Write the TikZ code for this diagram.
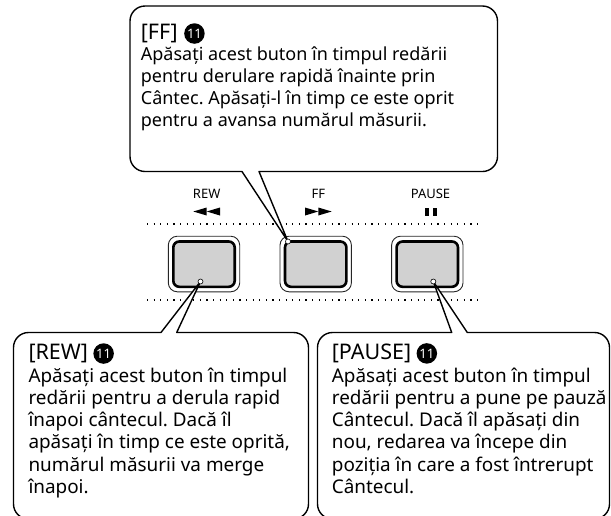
\documentclass[tikz,border=0pt]{standalone}
\usepackage{fontspec}
\setmainfont{Noto Sans}
\frenchspacing
\begin{document}
\begin{tikzpicture}[x=1pt,y=-1pt,
  callout/.style={draw=black, line width=1.4pt, fill=white, line join=round},
  bodytop/.style={anchor=base west, inner sep=0pt, align=left, font=\fontsize{18}{22}\selectfont},
  bodybot/.style={anchor=base west, inner sep=0pt, align=left, font=\fontsize{18.9}{22.3}\selectfont},
  head/.style={anchor=base west, inner sep=0pt, font=\fontsize{21.5}{24}\selectfont},
  numc/.style={circle, fill=black, text=white, minimum size=20.5pt, inner sep=0pt, anchor=west, font=\bfseries\fontsize{13}{13}\selectfont},
  btnouter/.style={draw=black!85, line width=0.9pt, rounded corners=9pt},
  btninner/.style={draw=black, line width=2.6pt, fill=black!18, rounded corners=6pt},
  dotline/.style={line width=1.2pt, dash pattern=on 1.2pt off 5.4pt},
  lbl/.style={anchor=base, inner sep=0pt, font=\fontsize{13}{14}\selectfont},
  sym/.style={fill=black},
  tipdot/.style={circle, fill=white, draw=black, line width=0.6pt, inner sep=0pt, minimum size=5pt}
]
\useasboundingbox (0,0) rectangle (611,515);
\clip (0,0) rectangle (611,515);

% dotted guide lines
\coordinate (d1a) at (147,224); \coordinate (d1b) at (483,224);
\coordinate (d2a) at (147,300); \coordinate (d2b) at (483,300);
\draw[dotline] (d1a) -- (d1b);
\draw[dotline] (d2a) -- (d2b);

% buttons
\foreach \cx in {204,315.7,427.3}{
  \draw[btnouter] (\cx-35.7,236.2) rectangle (\cx+35.7,291.8);
  \draw[btninner] (\cx-30.7,241.5) rectangle (\cx+30.7,286.8);
}

% button labels
\node[lbl] (lrew) at (206.7,198.3) {REW};
\node[lbl] (lff) at (318.3,198.3) {FF};
\node[lbl] (lpause) at (430.5,198.3) {PAUSE};
\fill[sym] (193.3,211.5) -- (206.7,207.5) -- (206.7,215.5) -- cycle;
\fill[sym] (206.7,211.5) -- (220,207.5) -- (220,215.5) -- cycle;
\fill[sym] (305,207.5) -- (318.3,211.5) -- (305,215.5) -- cycle;
\fill[sym] (318.3,207.5) -- (331.7,211.5) -- (318.3,215.5) -- cycle;
\fill[sym] (425,207.5) rectangle (429,215.5);
\fill[sym] (432.7,207.5) rectangle (436.7,215.5);

% pointer tips
\coordinate (tff) at (288,241.5);
\coordinate (trew) at (200.5,281.5);
\coordinate (tpause) at (433.3,281.5);

% top callout (FF)
\draw[callout] (145,6) -- (482.5,6) arc[start angle=-90, end angle=0, radius=15]
  -- (497.5,156.5) arc[start angle=0, end angle=90, radius=15]
  -- (259,171.5) -- (tff) -- (242,171.5)
  -- (145,171.5) arc[start angle=90, end angle=180, radius=15]
  -- (130,21) arc[start angle=180, end angle=270, radius=15] -- cycle;

% REW callout
\draw[callout] (28.5,332.5) -- (161,332.5) -- (trew) -- (176.7,332.5)
  -- (293.5,332.5) arc[start angle=-90, end angle=0, radius=15]
  -- (308.5,504) arc[start angle=0, end angle=90, radius=15]
  -- (28.5,519) arc[start angle=90, end angle=180, radius=15]
  -- (13.5,347.5) arc[start angle=180, end angle=270, radius=15] -- cycle;

% PAUSE callout
\draw[callout] (332.5,332.5) -- (451.7,332.5) -- (tpause) -- (467.3,332.5)
  -- (594.5,332.5) arc[start angle=-90, end angle=0, radius=15]
  -- (609.5,504) arc[start angle=0, end angle=90, radius=15]
  -- (332.5,519) arc[start angle=90, end angle=180, radius=15]
  -- (317.5,347.5) arc[start angle=180, end angle=270, radius=15] -- cycle;

\node[tipdot] (dff) at (tff) {};
\node[tipdot] (drew) at (trew) {};
\node[tipdot] (dpause) at (tpause) {};

% texts (body nodes anchored at the baseline of their last line)
\node[head] (hff) at (140.7,39.5) {[FF]};
\node[numc] (nff) at ([xshift=6pt]hff.east) {11};
\node[bodytop] (bff) at (140.7,126) {Apăsați acest buton în timpul redării\\pentru derulare rapidă înainte prin\\Cântec. Apăsați-l în timp ce este oprit\\pentru a avansa numărul măsurii.};

\node[head] (hrew) at (28.3,359.5) {[REW]};
\node[numc] (nrew) at ([xshift=5pt]hrew.east) {11};
\node[bodybot] (brew) at (28.3,493.5) {Apăsați acest buton în timpul\\redării pentru a derula rapid\\înapoi cântecul. Dacă îl\\apăsați în timp ce este oprită,\\numărul măsurii va merge\\înapoi.};

\node[head] (hpause) at (331.7,359.5) {[PAUSE]};
\node[numc] (npause) at ([xshift=5pt]hpause.east) {11};
\node[bodybot] (bpause) at (331.7,493.5) {Apăsați acest buton în timpul\\redării pentru a pune pe pauză\\Cântecul. Dacă îl apăsați din\\nou, redarea va începe din\\poziția în care a fost întrerupt\\Cântecul.};
\end{tikzpicture}
\end{document}
